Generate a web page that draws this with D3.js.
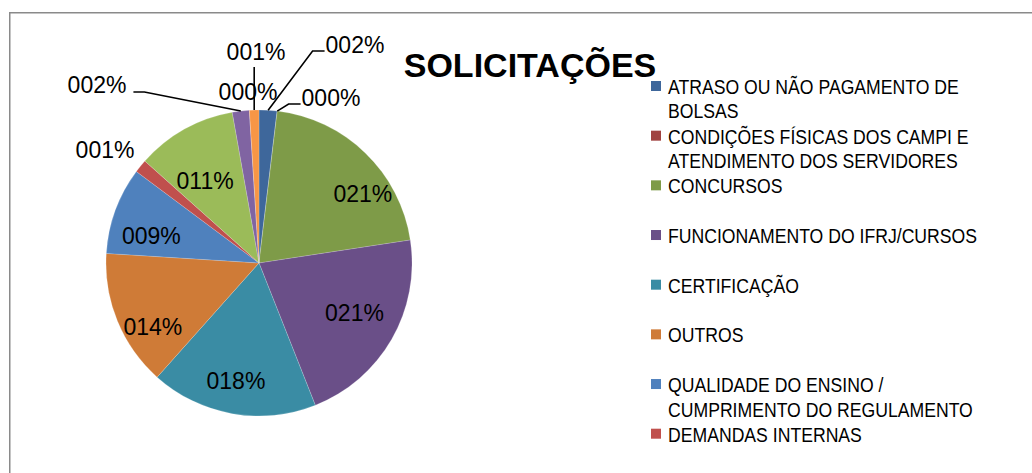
<!DOCTYPE html>
<html lang="pt">
<head>
<meta charset="UTF-8">
<title>Solicitações</title>
<script src="https://d3js.org/d3.v7.min.js"></script>
<style>
  body { margin: 0; background: #fff; }
  .legend text { font-family: "Liberation Sans", Arial, sans-serif; font-size: 20.5px; fill: #000; }
  .lbl { font-family: "Liberation Sans", Arial, sans-serif; font-size: 23px; fill: #000; }
  .title { font-family: "Liberation Sans", Arial, sans-serif; font-size: 34px; font-weight: bold; fill: #000; }
  .leader { fill: none; stroke: #000; stroke-width: 1.6; }
</style>
</head>
<body>
<svg width="1032" height="473"></svg>
<script>
// data (share of requests, %)
const categories = [
  "ATRASO OU NÃO PAGAMENTO DE BOLSAS",
  "CONDIÇÕES FÍSICAS DOS CAMPI E ATENDIMENTO DOS SERVIDORES",
  "CONCURSOS",
  "FUNCIONAMENTO DO IFRJ/CURSOS",
  "CERTIFICAÇÃO",
  "OUTROS",
  "QUALIDADE DO ENSINO / CUMPRIMENTO DO REGULAMENTO",
  "DEMANDAS INTERNAS",
  "CATEGORIA 9",
  "CATEGORIA 10",
  "CATEGORIA 11",
  "CATEGORIA 12"
];
const values = [1.9, 0, 20.7, 21.4, 17.6, 14.4, 9.2, 1.4, 10.6, 1.8, 0, 1.0];
const colors = ["#3e679b", "#a04240", "#7e9b48", "#6a4f88", "#3a8ca4", "#cf7b37",
                "#4f81bd", "#c0504d", "#9bbb59", "#8064a2", "#4bacc6", "#f79646"];
const legendShown = 8; // the legend box cuts off after 8 entries

const svg = d3.select("svg");
const cx = 259, cy = 263, R = 153;

// chart frame (runs off the right and bottom of the picture)
svg.append("rect")
  .attr("x", 9.75).attr("y", 12.75)
  .attr("width", 1100).attr("height", 500)
  .attr("fill", "none").attr("stroke", "#8a8a8a").attr("stroke-width", 1.5);

const pie = d3.pie().sort(null).value(d => d.v);
const arcs = pie(values.map((v, i) => ({ v: v, i: i })));
const arc = d3.arc().innerRadius(0).outerRadius(R);

const g = svg.append("g").attr("transform", "translate(" + cx + "," + cy + ")");
g.selectAll("path.slice")
  .data(arcs)
  .join("path")
  .attr("class", "slice")
  .attr("d", arc)
  .attr("fill", d => colors[d.index])
  .attr("stroke", "rgba(255,255,255,0.35)")
  .attr("stroke-width", 0.5);

const fmt = v => d3.format("03d")(Math.round(v)) + "%";

// label layout: inside labels sit on a ring and get a small nudge,
// outside labels get a spot relative to the pie centre and maybe a leader
const inner = d3.arc().innerRadius(R * 0.75).outerRadius(R * 0.75);
const labelLayout = [
  { out: [96, -218], leader: "right" },
  { out: [72, -165], leader: "right", edge: "end" },
  { nudge: [24, 13] },
  { nudge: [-4, -7] },
  { nudge: [-3, 5] },
  { nudge: [0, 20] },
  { nudge: [0, 13] },
  { out: [-154, -113] },
  { nudge: [2, 18] },
  { out: [-162, -178], leader: "left" },
  { out: [-11, -171] },
  { out: [-3, -211], leader: "up" }
];

arcs.forEach(a => {
  const L = labelLayout[a.index];
  let x, y;
  if (L.out) {
    x = L.out[0]; y = L.out[1];
  } else {
    const c = inner.centroid(a);
    x = c[0] + L.nudge[0]; y = c[1] + L.nudge[1];
  }
  const t = g.append("text")
    .attr("class", "lbl")
    .attr("x", x).attr("y", y)
    .attr("text-anchor", "middle")
    .attr("dominant-baseline", "central")
    .text(fmt(values[a.index]));
  if (!L.leader) return;
  const w = t.node().getComputedTextLength();
  const ang = L.edge === "end" ? a.endAngle : (a.startAngle + a.endAngle) / 2;
  const p0 = [Math.sin(ang) * R, -Math.cos(ang) * R];
  let pts;
  if (L.leader === "right") {
    const end = [x - w / 2 - 1, y + 6];
    pts = [p0, [end[0] - 12, end[1]], end];
  } else if (L.leader === "left") {
    const end = [x + w / 2 + 7, y + 7];
    pts = [p0, [end[0] + 11, end[1]], end];
  } else {
    pts = [p0, [p0[0], y + 15]];
  }
  g.append("path").attr("class", "leader").attr("d", d3.line()(pts));
});

// title
svg.append("text")
  .attr("class", "title")
  .attr("x", 530).attr("y", 77)
  .attr("text-anchor", "middle")
  .text("SOLICITAÇÕES");

// legend (text squeezed sideways to get the narrow look of the original font)
const squeeze = 0.86;
const ly = d3.scaleLinear().domain([0, legendShown - 1]).range([94, 441.7]);
const legend = svg.append("g").attr("class", "legend");
const maxW = 330 / squeeze, lineH = 24.5;
categories.slice(0, legendShown).forEach((name, i) => {
  const y0 = ly(i);
  legend.append("rect")
    .attr("x", 651).attr("y", y0 - 13)
    .attr("width", 10).attr("height", 10)
    .attr("fill", colors[i]);
  const t = legend.append("text")
    .attr("transform", "translate(668,0) scale(" + squeeze + ",1)")
    .attr("x", 0).attr("y", y0);
  const words = name.split(" ");
  let line = [], row = 0;
  let span = t.append("tspan").attr("x", 0).attr("y", y0);
  words.forEach(wd => {
    line.push(wd);
    span.text(line.join(" "));
    if (span.node().getComputedTextLength() > maxW && line.length > 1) {
      line.pop();
      span.text(line.join(" "));
      line = [wd];
      row++;
      span = t.append("tspan").attr("x", 0).attr("y", y0 + row * lineH).text(wd);
    }
  });
});
</script>
</body>
</html>
